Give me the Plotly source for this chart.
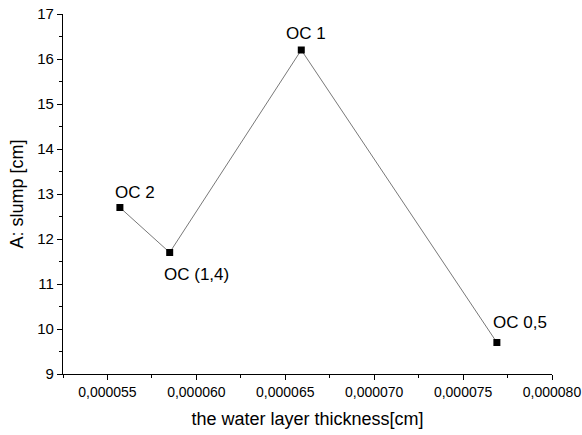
import plotly.graph_objects as go

# datos
thickness = [0.0000557, 0.0000585, 0.0000659, 0.0000769]
slump = [12.7, 11.7, 16.2, 9.7]
labels = ["OC 2", "OC (1,4)", "OC 1", "OC 0,5"]

fig = go.Figure()
fig.add_trace(go.Scatter(
    x=thickness, y=slump, mode="lines+markers",
    line=dict(color="#555555", width=0.8),
    marker=dict(symbol="square", size=7, color="black"),
    showlegend=False,
))

# etiquetas de los puntos
offsets = [(15, 15), (27, -22), (5, 17), (23, 20)]
for xv, yv, lab, (dx, dy) in zip(thickness, slump, labels, offsets):
    fig.add_annotation(x=xv, y=yv, text=lab, showarrow=False,
                       xshift=dx, yshift=dy,
                       font=dict(family="Liberation Sans, Arial", size=17, color="black"))

fig.update_layout(
    width=582, height=435,
    margin=dict(l=63, r=30, t=14, b=61),
    plot_bgcolor="white", paper_bgcolor="white",
    separators=",.",
    font=dict(family="Liberation Sans, Arial", color="black"),
)
fig.update_xaxes(
    range=[0.0000525, 0.00008], dtick=0.000005, tick0=0.000055,
    tickformat=".6f", showgrid=False, zeroline=False, automargin=False,
    showline=True, linecolor="black", linewidth=1.2,
    ticks="outside", ticklen=5, tickcolor="black",
    minor=dict(ticks="outside", ticklen=3, dtick=0.0000025, tickcolor="black"),
    tickfont=dict(size=14),
    title=dict(text="the water layer thickness[cm]", font=dict(size=18), standoff=13),
)
fig.update_yaxes(
    range=[9, 17], dtick=1, showgrid=False, zeroline=False, automargin=False,
    showline=True, linecolor="black", linewidth=1.2,
    ticks="outside", ticklen=5, tickcolor="black",
    minor=dict(ticks="outside", ticklen=3, dtick=0.5, tickcolor="black"),
    tickfont=dict(size=15),
    title=dict(text="A: slump [cm]", font=dict(size=18), standoff=8),
)

# quitamos el margen del body para que la figura empiece en 0,0
fig.write_html("out.html", config={"displayModeBar": False},
               post_script="document.body.style.margin='0';")
